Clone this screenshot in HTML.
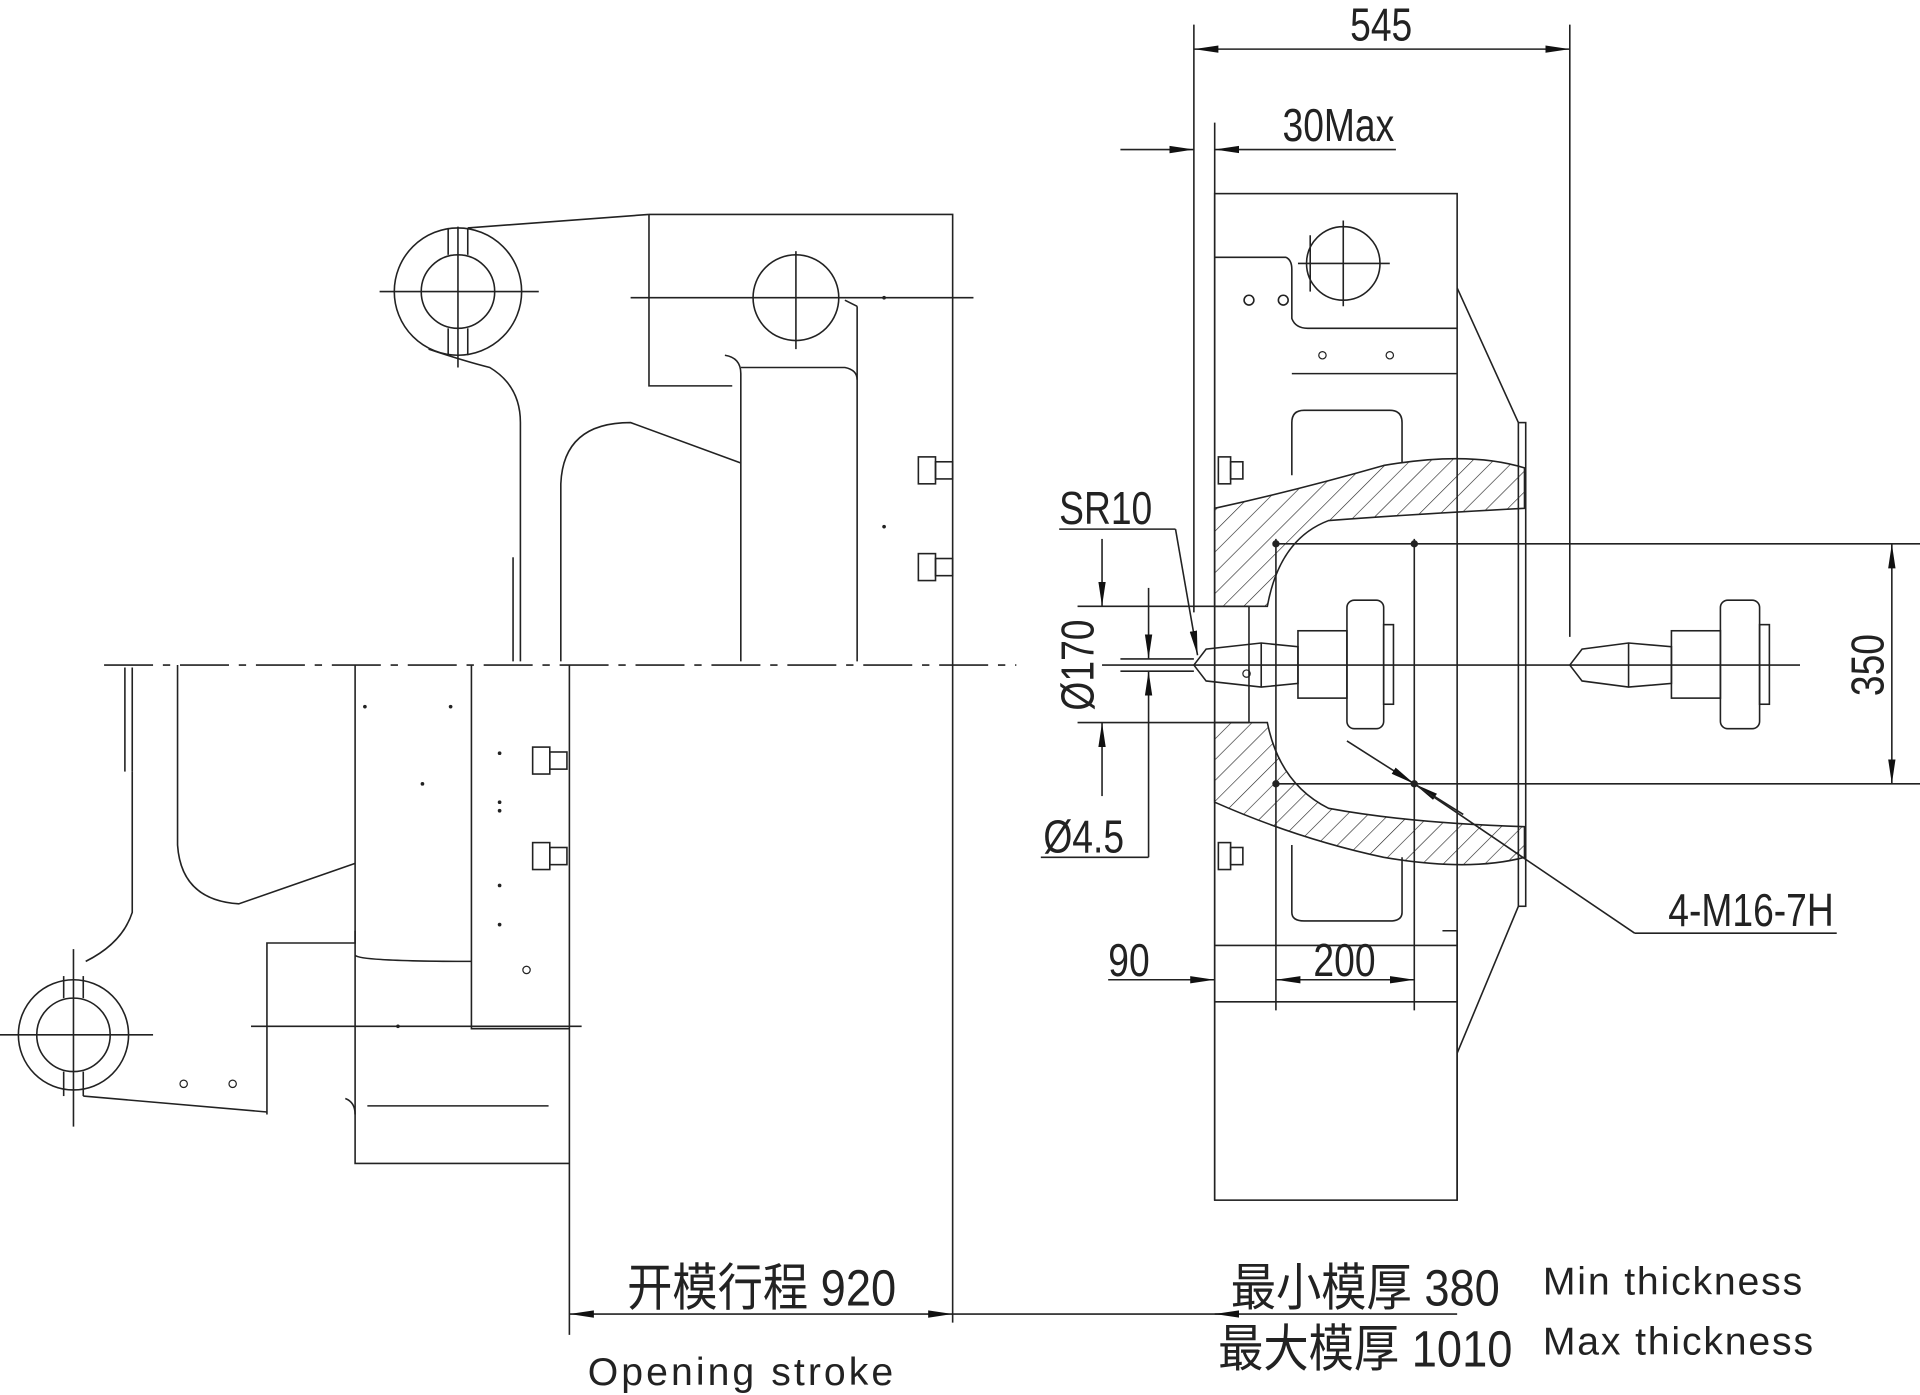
<!DOCTYPE html>
<html><head><meta charset="utf-8"><style>
html,body{margin:0;padding:0;background:#fff;}
svg{display:block;}
text{font-family:"Liberation Sans","Noto Sans CJK SC",sans-serif;fill:#222;}
.d{font-family:"Liberation Sans Narrow","Liberation Sans","Noto Sans CJK SC",sans-serif;}
</style></head><body>
<svg width="1920" height="1395" viewBox="0 0 1568 1139" xmlns="http://www.w3.org/2000/svg">
<defs>
<pattern id="h" width="12" height="12" patternUnits="userSpaceOnUse" patternTransform="rotate(45)">
<line x1="0" y1="0" x2="0" y2="12" stroke="#222" stroke-width="1"/></pattern>
<marker id="a" viewBox="0 0 20 8" refX="20" refY="4" markerWidth="20" markerHeight="8" orient="auto-start-reverse" markerUnits="userSpaceOnUse"><path d="M0,1 L20,4 L0,7 z" fill="#111"/></marker>
</defs>
<g fill="none" stroke="#222" stroke-width="1.3">
<line x1="85" y1="543" x2="830" y2="543" stroke-dasharray="40,8,6,8"/>
<line x1="900" y1="543" x2="1470" y2="543"/>
<circle cx="374" cy="238" r="52"/><circle cx="374" cy="238" r="30"/>
<line x1="310" y1="238" x2="440" y2="238"/><line x1="374" y1="185" x2="374" y2="300"/>
<line x1="366" y1="186" x2="366" y2="208"/><line x1="382" y1="186" x2="382" y2="208"/>
<line x1="366" y1="268" x2="366" y2="290"/><line x1="382" y1="268" x2="382" y2="290"/>
<line x1="382" y1="186" x2="530" y2="175"/>
<path d="M350,285 Q380,295 400,300 Q425,315 425,345 L425,540"/>
<line x1="419" y1="455" x2="419" y2="540"/>
<path d="M458,540 L458,395 Q460,345 515,345 L605,378"/>
<path d="M530,175 L778,175 L778,1080"/>
<path d="M530,175 L530,315 L598,315"/>
<path d="M592,290 Q605,292 605,305 L605,540"/>
<path d="M605,300 L690,300 Q700,302 700,310 L700,540"/>
<line x1="690" y1="245" x2="700" y2="250"/><line x1="700" y1="250" x2="700" y2="310"/>
<circle cx="650" cy="243" r="35"/>
<line x1="515" y1="243" x2="795" y2="243"/><line x1="650" y1="205" x2="650" y2="285"/>
<rect x="750" y="373" width="14" height="22"/><rect x="764" y="377" width="14" height="14"/>
<rect x="750" y="452" width="14" height="22"/><rect x="764" y="456" width="14" height="14"/>
<path d="M465,543 L465,1090"/>
<path d="M290,543 L290,950 L465,950"/>
<path d="M385,543 L385,840 L465,840"/>
<path d="M290,760 L290,770 L218,770 L218,910"/>
<path d="M290,780 Q295,785 385,785"/>
<line x1="205" y1="838" x2="475" y2="838"/>
<path d="M282,897 Q290,900 290,910"/>
<line x1="300" y1="903" x2="448" y2="903"/>
<rect x="435" y="610" width="14" height="22"/><rect x="449" y="614" width="14" height="14"/>
<rect x="435" y="688" width="14" height="22"/><rect x="449" y="692" width="14" height="14"/>
<path d="M108,545 L108,630"/><line x1="102" y1="545" x2="102" y2="630"/>
<path d="M145,543 L145,690 Q148,735 195,738 L290,705"/>
<path d="M108,630 L108,745 Q100,770 70,785"/>
<circle cx="60" cy="845" r="45"/><circle cx="60" cy="845" r="30"/>
<line x1="0" y1="845" x2="125" y2="845"/><line x1="60" y1="775" x2="60" y2="920"/>
<line x1="52" y1="797" x2="52" y2="815"/><line x1="68" y1="797" x2="68" y2="815"/>
<line x1="52" y1="875" x2="52" y2="895"/><line x1="68" y1="875" x2="68" y2="895"/>
<path d="M68,895 L218,908"/>
<line x1="975" y1="20" x2="975" y2="500"/>
<line x1="992" y1="100" x2="992" y2="980"/>
<line x1="1282" y1="20" x2="1282" y2="520"/>
<rect x="992" y="158" width="198" height="822"/>
<line x1="1190" y1="235" x2="1240" y2="345"/>
<line x1="1240" y1="740" x2="1190" y2="860"/>
<rect x="1240" y="345" width="6" height="395"/>
<path d="M992,210 L1050,210 Q1055,212 1055,220 L1055,260 Q1058,268 1068,268 L1190,268"/>
<line x1="1055" y1="305" x2="1190" y2="305"/>
<circle cx="1097" cy="215" r="30"/>
<line x1="1060" y1="215" x2="1135" y2="215"/><line x1="1097" y1="180" x2="1097" y2="250"/>
<line x1="1070" y1="192" x2="1070" y2="238"/>
<circle cx="1020" cy="245" r="4"/><circle cx="1048" cy="245" r="4"/>
<path d="M1055,388 L1055,345 Q1055,335 1065,335 L1135,335 Q1145,335 1145,345 L1145,378"/>
<path d="M1055,690 L1055,745 Q1055,752 1065,752 L1135,752 Q1145,752 1145,745 L1145,700"/>
<line x1="992" y1="772" x2="1190" y2="772"/>
<line x1="992" y1="818" x2="1190" y2="818"/>
<path d="M1178,760 L1190,760 L1190,980"/>
<rect x="995" y="373" width="10" height="22"/><rect x="1005" y="377" width="10" height="14"/>
<rect x="995" y="688" width="10" height="22"/><rect x="1005" y="692" width="10" height="14"/>
<path d="M992,415 Q1060,400 1130,380 Q1200,368 1245,382 L1245,415 Q1150,420 1085,425 Q1045,440 1035,495 L992,495 Z" fill="url(#h)"/>
<path d="M992,590 L1035,590 Q1045,640 1085,660 Q1150,672 1245,675 L1245,700 Q1200,712 1130,700 Q1060,685 992,655 Z" fill="url(#h)"/>
<line x1="1020" y1="495" x2="1020" y2="590"/>
<path d="M975,543 L985,530 L1030,525 L1060,528 L1060,558 L1030,561 L985,556 Z"/>
<line x1="1030" y1="525" x2="1030" y2="561"/>
<rect x="1060" y="515" width="40" height="55"/><rect x="1100" y="490" width="30" height="105" rx="6"/><rect x="1130" y="510" width="8" height="65"/>
<path d="M1282,543 L1292,530 L1330,525 L1365,528 L1365,558 L1330,561 L1292,556 Z"/>
<line x1="1330" y1="525" x2="1330" y2="561"/>
<rect x="1365" y="515" width="40" height="55"/><rect x="1405" y="490" width="32" height="105" rx="6"/><rect x="1437" y="510" width="8" height="65"/>
<line x1="1042" y1="440" x2="1042" y2="825"/><line x1="1155" y1="440" x2="1155" y2="825"/>
<line x1="1042" y1="444" x2="1568" y2="444"/><line x1="1042" y1="640" x2="1568" y2="640"/>
<line x1="975" y1="40" x2="1282" y2="40" marker-start="url(#a)" marker-end="url(#a)"/>
<line x1="915" y1="122" x2="975" y2="122" marker-end="url(#a)"/>
<line x1="1140" y1="122" x2="992" y2="122" marker-end="url(#a)"/>
<line x1="1545" y1="444" x2="1545" y2="640" marker-start="url(#a)" marker-end="url(#a)"/>
<line x1="880" y1="495" x2="1020" y2="495"/><line x1="880" y1="590" x2="1020" y2="590"/>
<line x1="900" y1="440" x2="900" y2="495" marker-end="url(#a)"/>
<line x1="900" y1="650" x2="900" y2="590" marker-end="url(#a)"/>
<line x1="938" y1="480" x2="938" y2="538" marker-end="url(#a)"/>
<line x1="938" y1="700" x2="938" y2="548" marker-end="url(#a)"/>
<line x1="850" y1="700" x2="938" y2="700"/>
<line x1="915" y1="538" x2="975" y2="538"/><line x1="915" y1="548" x2="975" y2="548"/>
<line x1="865" y1="432" x2="960" y2="432"/>
<line x1="960" y1="432" x2="978" y2="535" marker-end="url(#a)"/>
<line x1="1100" y1="605" x2="1155" y2="640" marker-end="url(#a)"/>
<line x1="1195" y1="665" x2="1155" y2="640" marker-end="url(#a)"/>
<line x1="1155" y1="640" x2="1335" y2="762"/><line x1="1335" y1="762" x2="1500" y2="762"/>
<line x1="905" y1="800" x2="992" y2="800" marker-end="url(#a)"/>
<line x1="1042" y1="800" x2="1155" y2="800" marker-start="url(#a)" marker-end="url(#a)"/>
<line x1="465" y1="1073" x2="778" y2="1073" marker-start="url(#a)" marker-end="url(#a)"/>
<line x1="778" y1="1073" x2="1190" y2="1073"/>
<line x1="1000" y1="1073" x2="992" y2="1073" marker-end="url(#a)"/>
</g>
<g fill="#222">
<circle cx="722" cy="243" r="1.5"/><circle cx="722" cy="430" r="1.5"/>
<circle cx="298" cy="577" r="1.5"/><circle cx="368" cy="577" r="1.5"/><circle cx="345" cy="640" r="1.5"/>
<circle cx="408" cy="615" r="1.5"/><circle cx="408" cy="655" r="1.5"/><circle cx="408" cy="662" r="1.5"/>
<circle cx="408" cy="723" r="1.5"/><circle cx="408" cy="755" r="1.5"/><circle cx="325" cy="838" r="1.5"/>
<circle cx="1042" cy="444" r="3"/><circle cx="1155" cy="444" r="3"/><circle cx="1042" cy="640" r="3"/><circle cx="1155" cy="640" r="3"/>
</g>
<g fill="none" stroke="#222" stroke-width="1">
<circle cx="150" cy="885" r="3"/><circle cx="190" cy="885" r="3"/><circle cx="430" cy="792" r="3"/>
<circle cx="1080" cy="290" r="3"/><circle cx="1135" cy="290" r="3"/><circle cx="1018" cy="550" r="3"/>
</g>
<g class="d" font-size="38">
<text x="1128" y="33" text-anchor="middle" transform="translate(1128,0) scale(0.8,1) translate(-1128,0)">545</text>
<text x="1093" y="115" text-anchor="middle" transform="translate(1093,0) scale(0.8,1) translate(-1093,0)">30Max</text>
<text x="903" y="428" text-anchor="middle" transform="translate(903,0) scale(0.8,1) translate(-903,0)">SR10</text>
<text x="885" y="696" text-anchor="middle" transform="translate(885,0) scale(0.8,1) translate(-885,0)">Ø4.5</text>
<text x="1430" y="756" text-anchor="middle" transform="translate(1430,0) scale(0.8,1) translate(-1430,0)">4-M16-7H</text>
<text x="922" y="797" text-anchor="middle" transform="translate(922,0) scale(0.8,1) translate(-922,0)">90</text>
<text x="1098" y="797" text-anchor="middle" transform="translate(1098,0) scale(0.8,1) translate(-1098,0)">200</text>
<text x="0" y="0" text-anchor="middle" transform="translate(893,543) rotate(-90) scale(0.8,1)">Ø170</text>
<text x="0" y="0" text-anchor="middle" transform="translate(1538,543) rotate(-90) scale(0.8,1)">350</text>
</g>
<g class="d" font-size="42">
<text x="622" y="1066" text-anchor="middle" transform="translate(622,0) scale(0.88,1) translate(-622,0)">开模行程 920</text>
<text x="1115" y="1066" text-anchor="middle" transform="translate(1115,0) scale(0.88,1) translate(-1115,0)">最小模厚 380</text>
<text x="1115" y="1116" text-anchor="middle" transform="translate(1115,0) scale(0.88,1) translate(-1115,0)">最大模厚 1010</text>
</g>
<g font-size="32" letter-spacing="1.5">
<text x="1260" y="1057">Min thickness</text>
<text x="1260" y="1106">Max thickness</text>
<text x="480" y="1131" letter-spacing="2.5">Opening stroke</text>
</g>
</svg>
</body></html>
